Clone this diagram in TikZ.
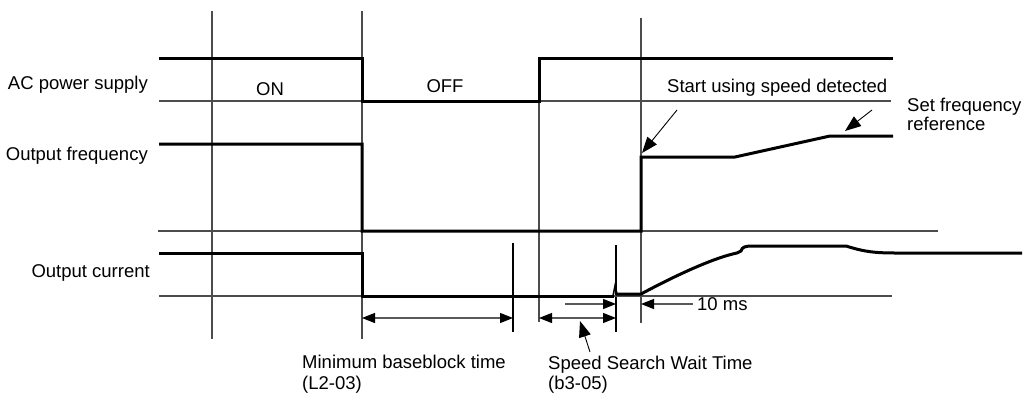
\documentclass[tikz,border=0pt]{standalone}
\usepackage{fontspec}
\setmainfont{Liberation Sans}
\usetikzlibrary{arrows.meta}
\begin{document}
\begin{tikzpicture}[x=1pt,y=-1pt,
  wave/.style={line width=3pt,line join=miter},
  gridln/.style={line width=1.1pt,draw=black!70},
  tickln/.style={line width=1.1pt,draw=black},
  dimarrow/.style={line width=1.1pt,draw=black!65,{Triangle[length=13pt,width=10pt,color=black]}-{Triangle[length=13pt,width=10pt,color=black]}},
  onearrow/.style={line width=1.1pt,draw=black!65,-{Triangle[length=13pt,width=10pt,color=black]}},
  callout/.style={line width=0.9pt,draw=black,-{Triangle[length=16pt,width=12pt]}},
  lbl/.style={font=\fontsize{18.5}{22}\selectfont,inner sep=0pt}]
\useasboundingbox (0,0) rectangle (1023,394);

% vertical reference lines
\draw[gridln] (212,11) -- (212,339);
\draw[gridln] (362,11) -- (362,339);
\draw[gridln] (539,58) -- (539,322);
\draw[gridln] (641,18) -- (641,323);
\draw[tickln] (513,243) -- (513,332);
\draw[tickln] (616,245) -- (616,332);

% baselines
\draw[gridln] (159,101) -- (891,101);
\draw[gridln] (158,231) -- (938,231);
\draw[gridln] (159,296) -- (892,296);

% AC power supply
\draw[wave] (159,58) -- (362,58) -- (362,101) -- (539,101) -- (539,58) -- (893,58);
% Output frequency
\draw[wave] (159,144) -- (362,144) -- (362,231) -- (641,231) -- (641,157) -- (735,157) -- (830,136) -- (893,136);
% Output current
\draw[wave] (159,253) -- (362,253) -- (362,296) -- (614,296);
\draw[line width=1.6pt] (613,296) -- (615,286) -- (617,294);
\draw[wave] (616,294) -- (641,294)
  .. controls (682,272) and (717,257) .. (737,253) -- (741,251)
  .. controls (742,247) and (745,246) .. (753,246) -- (846,246)
  .. controls (862,251) and (872,253) .. (895,253) -- (1022,253);

% labels
\node[lbl,anchor=base east] (ac) at (148,89) {AC power supply};
\node[lbl,anchor=base east] (of) at (148,160) {Output frequency};
\node[lbl,anchor=base east] (oc) at (150,277) {Output current};
\node[lbl,anchor=base] (on) at (270,95) {ON};
\node[lbl,anchor=base] (off) at (445,92) {OFF};
\node[lbl,anchor=base west] (start) at (667,92) {Start using speed detected};
\node[lbl,anchor=base west] (setf) at (907,111) {Set frequency};
\node[lbl,anchor=base west] (setr) at (907,130) {reference};
\node[lbl,anchor=base west] (ten) at (697,310) {10 ms};
\node[lbl,anchor=base west] (mbt) at (302,368) {Minimum baseblock time};
\node[lbl,anchor=base west] (mbtc) at (302,389) {(L2-03)};
\node[lbl,anchor=base west] (ssw) at (548,369) {Speed Search Wait Time};
\node[lbl,anchor=base west] (sswc) at (548,389) {(b3-05)};

% dimension arrows
\coordinate (d1a) at (362,318);
\coordinate (d1b) at (513,318);
\coordinate (d2a) at (539,318);
\coordinate (d2b) at (616,318);
\coordinate (d3a) at (565,304);
\coordinate (d3b) at (616,304);
\coordinate (d4a) at (693,304);
\coordinate (d4b) at (641,304);
\draw[dimarrow] (d1a) -- (d1b);
\draw[dimarrow] (d2a) -- (d2b);
\draw[onearrow] (d3a) -- (d3b);
\draw[onearrow] (d4a) -- (d4b);

% callouts
\coordinate (c1a) at (677,110);
\coordinate (c1b) at (642,153);
\coordinate (c2a) at (872,110);
\coordinate (c2b) at (845,131);
\coordinate (c3a) at (590,352);
\coordinate (c3b) at (580,321);
\draw[callout] (c1a) -- (c1b);
\draw[callout] (c2a) -- (c2b);
\draw[callout] (c3a) -- (c3b);
\end{tikzpicture}
\end{document}
